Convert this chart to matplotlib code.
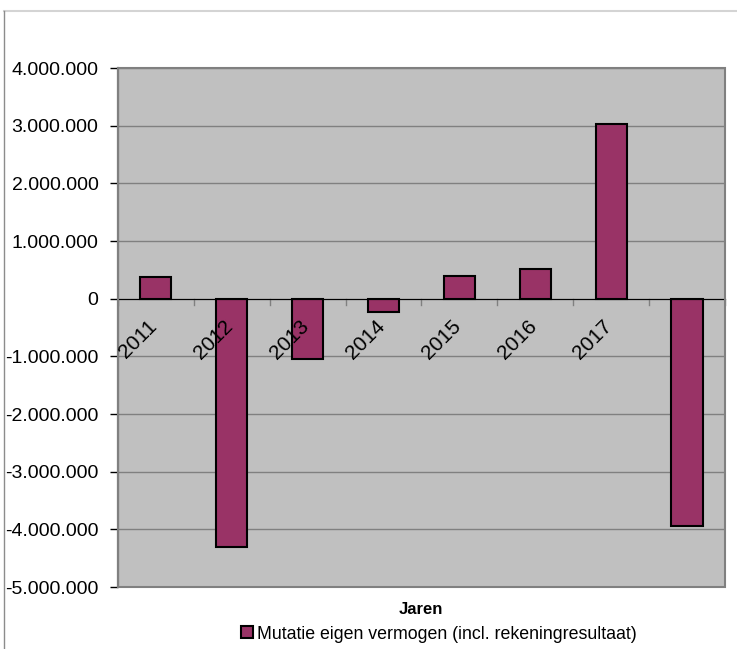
import matplotlib.pyplot as plt
import numpy as np
from matplotlib.lines import Line2D
from matplotlib.patches import Rectangle
from matplotlib.ticker import FuncFormatter, FixedLocator
from matplotlib.transforms import ScaledTranslation

plt.rcParams['font.family'] = ['Liberation Sans', 'DejaVu Sans']

jaren = ['2011', '2012', '2013', '2014', '2015', '2016', '2017', '']
mutatie = [375000, -4310000, -1040000, -235000, 395000, 510000, 3030000, -3950000]
reeks = 'Mutatie eigen vermogen (incl. rekeningresultaat)'

fig = plt.figure(figsize=(7.37, 6.49), dpi=100)
ax = fig.add_axes([0.160, 0.0955, 0.8237, 0.7997])
ax.set_facecolor('#c0c0c0')

x = np.arange(len(mutatie))
staven = ax.bar(x, mutatie, width=0.41, color='#993366', edgecolor='black',
                linewidth=1.5, zorder=3, label=reeks)

ax.set_xlim(-0.5, len(mutatie) - 0.5)
ax.set_ylim(-5000000, 4000000)
ax.yaxis.set_major_locator(FixedLocator(np.arange(-5000000, 4000001, 1000000)))
ax.yaxis.set_major_formatter(FuncFormatter(lambda v, p: f"{int(v):,}".replace(',', '.')))
ax.tick_params(axis='y', labelsize=14, length=6, width=1, color='black', pad=8)

# rasterlijnen
ax.grid(axis='y', color='#808080', linewidth=1, zorder=1)
ax.set_axisbelow(True)

# x-as op nul
ax.spines['bottom'].set_position(('data', 0))
ax.spines['bottom'].set_color('black')
ax.spines['bottom'].set_zorder(4)
ax.spines['left'].set_color('black')
ax.spines['left'].set_linewidth(1.5)
ax.spines['top'].set_visible(False)
ax.spines['right'].set_visible(False)
ax.add_patch(Rectangle((0, 0), 1, 1, transform=ax.transAxes, fill=False,
                       edgecolor='#808080', linewidth=1.5, zorder=5, clip_on=False))

ax.set_xticks([])
for xb in np.arange(len(mutatie) + 1) - 0.5:
    ax.plot([xb, xb], [0, -110000], color='#808080', lw=1, zorder=4, clip_on=False)

# jaarlabels boven de staven
verschuiving = ScaledTranslation(5 / 100, -18 / 100, fig.dpi_scale_trans)
for xi, jaar in zip(x, jaren):
    ax.text(xi, 0, jaar, rotation=45, ha='right', va='top', fontsize=15, zorder=6,
            transform=ax.transData + verschuiving)

fig.text(0.571, 0.061, 'Jaren', ha='center', va='center', fontsize=12, fontweight='bold')
fig.legend(handles=[staven], labels=[reeks], loc='center', bbox_to_anchor=(0.596, 0.023),
           frameon=False, fontsize=12.8, handlelength=0.65, handleheight=0.65,
           handletextpad=0.25, borderpad=0)

# kader van de grafiek
fig.add_artist(Line2D([4 / 737, 1], [1 - 11 / 649, 1 - 11 / 649], color='#d4d4d4', lw=1.5))
fig.add_artist(Line2D([4 / 737, 4 / 737], [0, 1 - 11 / 649], color='#8c8c8c', lw=1))

fig.savefig('out.png', dpi=100)
